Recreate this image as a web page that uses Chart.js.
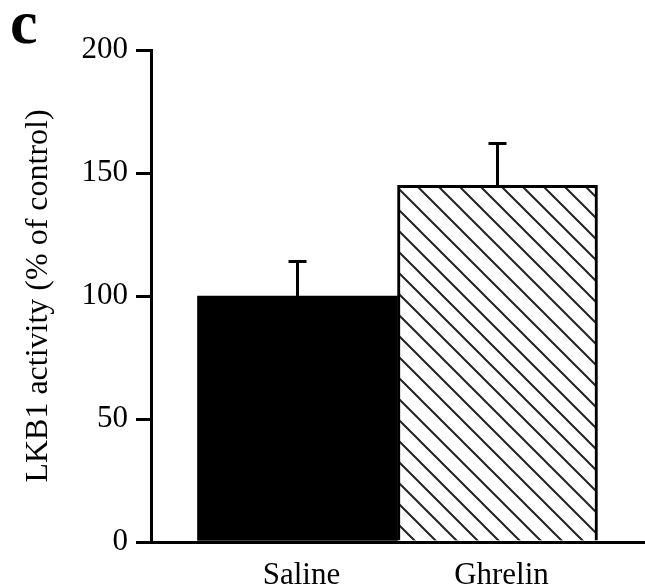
<!DOCTYPE html>
<html>
<head>
<meta charset="utf-8">
<script src="https://cdn.jsdelivr.net/npm/chart.js@4"></script>
<style>
  html, body { margin: 0; padding: 0; background: #fff; }
  #wrap { width: 645px; height: 586px; position: relative; }
</style>
</head>
<body>
<div id="wrap"><canvas id="chart" width="645" height="586"></canvas></div>
<script>
// data
const categories = ["Saline", "Ghrelin"];
const values = [100, 145];
const errors = [14, 17];
const yTicks = [0, 50, 100, 150, 200];

const serif = "'Liberation Serif', 'Times New Roman', serif";

// diagonal hatch for the ghrelin bar
function makeHatch() {
  const s = 21;
  const c = document.createElement("canvas");
  c.width = s; c.height = s;
  const g = c.getContext("2d");
  g.fillStyle = "#fff";
  g.fillRect(0, 0, s, s);
  g.strokeStyle = "#222";
  g.lineWidth = 2;
  g.beginPath();
  g.moveTo(-2, -2); g.lineTo(s + 2, s + 2);
  g.moveTo(-2, s - 2); g.lineTo(2, s + 2);
  g.moveTo(s - 2, -2); g.lineTo(s + 2, 2);
  g.stroke();
  return g.createPattern(c, "repeat");
}
const hatch = makeHatch();

// upward error bars with caps
const errorBars = {
  id: "errorBars",
  afterDatasetsDraw(chart) {
    const ctx = chart.ctx;
    const xs = chart.scales.x, ys = chart.scales.y;
    ctx.save();
    ctx.strokeStyle = "#000";
    ctx.lineWidth = 3;
    values.forEach((v, i) => {
      const x = xs.getPixelForValue(i + 1);
      const y0 = ys.getPixelForValue(v);
      const y1 = ys.getPixelForValue(v + errors[i]);
      ctx.beginPath();
      ctx.moveTo(x, y0); ctx.lineTo(x, y1);
      ctx.moveTo(x - 9, y1); ctx.lineTo(x + 9, y1);
      ctx.stroke();
    });
    ctx.restore();
  }
};

// panel letter
const panelLabel = {
  id: "panelLabel",
  afterDraw(chart) {
    const ctx = chart.ctx;
    ctx.save();
    ctx.fillStyle = "#000";
    ctx.font = "bold 62px " + serif;
    ctx.textBaseline = "alphabetic";
    ctx.fillText("c", 10, 43);
    ctx.restore();
  }
};

new Chart(document.getElementById("chart"), {
  type: "bar",
  plugins: [errorBars, panelLabel],
  data: {
    datasets: [{
      data: categories.map((c, i) => ({ x: i + 1, y: values[i] })),
      backgroundColor: ["#000", hatch],
      borderColor: "#000",
      borderWidth: [0, 3],
      borderSkipped: "bottom",
      barPercentage: 1,
      categoryPercentage: 1
    }]
  },
  options: {
    responsive: false,
    animation: false,
    layout: { padding: { top: 50, left: 0, right: 0, bottom: 0 } },
    plugins: { legend: { display: false }, tooltip: { enabled: false } },
    scales: {
      x: {
        type: "linear",
        offset: false,
        min: 0.2675,
        max: 2.7375,
        z: 1,
        grid: { display: false, offset: false },
        border: { display: true, color: "#000", width: 3 },
        afterBuildTicks: (s) => { s.ticks = categories.map((c, i) => ({ value: i + 1 })); },
        afterFit: (s) => { s.height = 44; },
        ticks: {
          color: "#000",
          padding: 7,
          labelOffset: 4,
          maxRotation: 0,
          autoSkip: false,
          font: { family: serif, size: 31 },
          callback: (v) => categories[v - 1] || ""
        }
      },
      y: {
        min: 0,
        max: 200,
        afterBuildTicks: (s) => { s.ticks = yTicks.map(v => ({ value: v })); },
        afterFit: (s) => { s.width = 151; },
        grid: {
          drawOnChartArea: false,
          drawTicks: true,
          tickLength: 15,
          tickWidth: 3,
          tickColor: "#000",
          lineWidth: 3,
          color: "#000"
        },
        border: { display: true, color: "#000", width: 3 },
        ticks: {
          color: "#000",
          padding: 8,
          font: { family: serif, size: 31 }
        },
        title: {
          display: true,
          text: "LKB1 activity (% of control)",
          color: "#000",
          padding: { top: 19, bottom: 0 },
          font: { family: serif, size: 32, weight: "normal" }
        }
      }
    }
  }
});
</script>
</body>
</html>
